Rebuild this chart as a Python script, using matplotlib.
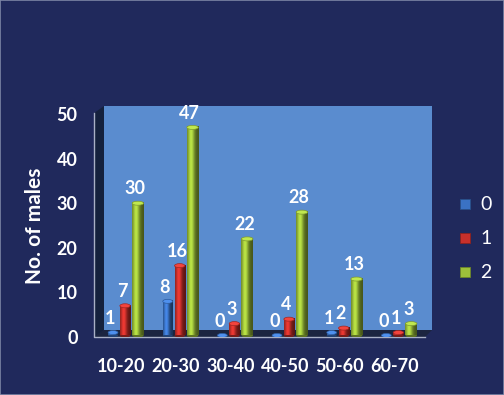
import numpy as np
import matplotlib
matplotlib.use("Agg")
import matplotlib.pyplot as plt
from matplotlib.patches import Ellipse, Polygon, Rectangle
from matplotlib.colors import to_rgb

# data
categories = ["10-20", "20-30", "30-40", "40-50", "50-60", "60-70"]
series_names = ["0", "1", "2"]
vals_0 = [1, 8, 0, 0, 1, 0]
vals_1 = [7, 16, 3, 4, 2, 1]
vals_2 = [30, 47, 22, 28, 13, 3]
series_vals = [vals_0, vals_1, vals_2]
series_colors = ["#3a72c4", "#c8302b", "#9cbf3a"]

plt.rcParams['font.family'] = ['Lato', 'DejaVu Sans']

bg = "#20295c"
wall = "#5a8ccf"
floor = "#1c2540"
side = "#15213d"

fig = plt.figure(figsize=(5.04, 3.95), dpi=100, facecolor=bg)
fig.patches.append(Rectangle((0, 0), 1, 1, transform=fig.transFigure,
                             fill=False, edgecolor="#7d86a6", lw=1.2))

ax = fig.add_axes([104 / 504, (395 - 337) / 395, 328 / 504, (337 - 106) / 395])
ax.set_facecolor("none")
for s in ax.spines.values():
    s.set_visible(False)

ymax = 51.8
xl, xr = -0.5, 5.5
x_front_l, x_front_r = -0.683, 5.372
y_wall0 = 1.57
y_front_top = 50.2

# back wall, floor, side wall
ax.add_patch(Rectangle((xl, y_wall0), xr - xl, ymax - y_wall0, facecolor=wall,
                       edgecolor="none", zorder=0))
ax.add_patch(Polygon([(x_front_l, 0), (x_front_r, 0), (xr, y_wall0), (xl, y_wall0)],
                     closed=True, facecolor=floor, edgecolor="none", zorder=0.5, clip_on=False))
ax.add_patch(Polygon([(x_front_l, y_front_top), (xl, ymax), (xl, y_wall0), (x_front_l, 0)],
                     closed=True, facecolor=side, edgecolor="none", zorder=0.5, clip_on=False))
ax.plot([x_front_l, x_front_l, x_front_r], [y_front_top, 0, 0], color="#a9b0c6",
        lw=1, clip_on=False, zorder=1)


def shade(color, n=64):
    c = np.array(to_rgb(color))
    t = np.linspace(0, 1, n)
    # light band left of centre, darker towards the edges
    f = 0.6 + 0.65 * np.exp(-((t - 0.35) / 0.28) ** 2) - 0.15 * t
    img = np.clip(c[None, :] * f[:, None], 0, 1)
    return img[None, :, :]


offsets = [-0.335, -0.115, 0.12]
widths = [0.18, 0.19, 0.21]
cap_h = 0.9
base = 0.35

for si, (vals, col) in enumerate(zip(series_vals, series_colors)):
    rgb = np.array(to_rgb(col))
    for gi, v in enumerate(vals):
        xc = gi + offsets[si]
        w = widths[si]
        top = max(v, base)
        ax.add_patch(Ellipse((xc, base), w, cap_h, facecolor=rgb * 0.6,
                             edgecolor="none", zorder=2))
        if top > base:
            ax.imshow(shade(col), extent=[xc - w / 2, xc + w / 2, base, top],
                      aspect="auto", interpolation="bilinear", zorder=3)
        ax.add_patch(Ellipse((xc, top), w, cap_h, facecolor=np.clip(rgb * 1.15 + 0.05, 0, 1),
                             edgecolor=rgb * 0.8, lw=0.5, zorder=4))
        ax.text(xc - 0.05, top + 1.3, str(v), color="white", fontsize=13,
                fontweight="bold", ha="center", va="bottom", zorder=5)

ax.set_xlim(xl, xr)
ax.set_ylim(0, ymax)

ax.set_yticks([0, 10, 20, 30, 40, 50])
ax.set_xticks([g - 0.19 for g in range(len(categories))])
ax.set_xticklabels(categories)
ax.tick_params(axis="y", length=0, pad=19, labelsize=13, labelcolor="white")
ax.tick_params(axis="x", length=0, pad=15, labelsize=13, labelcolor="white")
for lab in ax.get_xticklabels() + ax.get_yticklabels():
    lab.set_fontweight("bold")

fig.text(35 / 504, 1 - 226 / 395, "No. of males", rotation=90, color="white",
         fontsize=15, fontweight="bold", ha="center", va="center")

# legend
for i, (name, col) in enumerate(zip(series_names, series_colors)):
    ly = 1 - (204 + 34 * i) / 395
    fig.patches.append(Rectangle((460 / 504, ly - 5 / 395), 10 / 504, 10 / 395,
                                 transform=fig.transFigure, facecolor=col,
                                 edgecolor=np.array(to_rgb(col)) * 0.7, lw=0.6))
    fig.text(480 / 504, ly, name, color="white", fontsize=14, ha="left", va="center")

fig.savefig("out.png", dpi=100, facecolor=bg)
